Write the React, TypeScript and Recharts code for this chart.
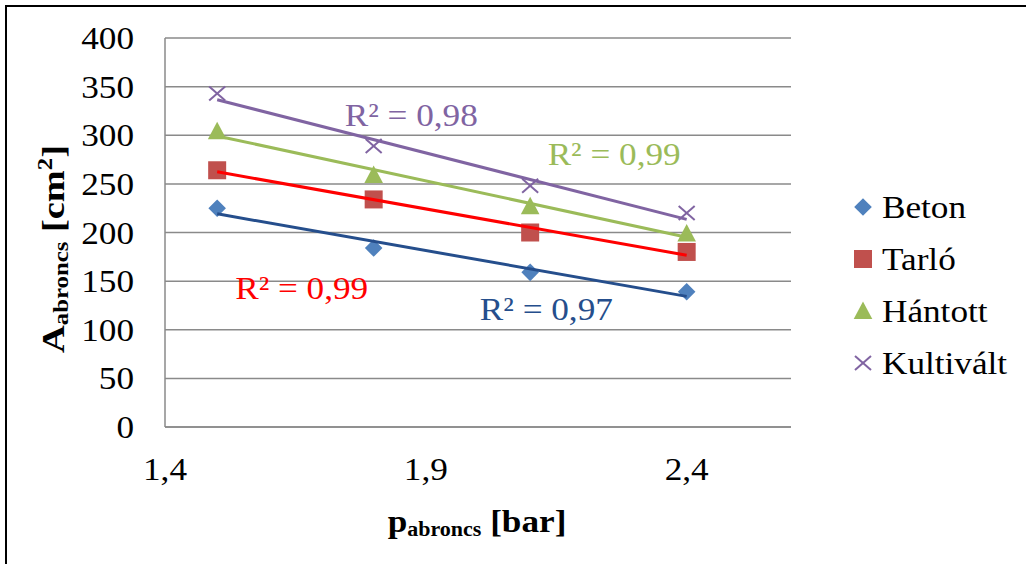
import React from 'react';
import { ScatterChart, Scatter, XAxis, YAxis, CartesianGrid, ReferenceDot } from 'recharts';

// ---- data ----
const pressures = [1.5, 1.8, 2.1, 2.4];
const betonArea = [225, 184, 159, 139];
const tarloArea = [264, 234, 200, 180];
const hantottArea = [304, 259, 227, 199];
const kultivaltArea = [343, 289, 248, 220];

const seriesNames = ['Beton', 'Tarló', 'Hántott', 'Kultivált'];
const r2Texts = ['R² = 0,97', 'R² = 0,99', 'R² = 0,99', 'R² = 0,98'];
// annotation anchors in data units (x = pressure, y = area), text baseline centre
const r2AnchorX = [2.131, 1.662, 2.261, 1.872];
const r2AnchorY = [110, 132, 269, 310];

const xTicks = [1.4, 1.9, 2.4];
const yTicks = [0, 50, 100, 150, 200, 250, 300, 350, 400];

// ---- styles ----
const FONT = '"Liberation Serif", "Times New Roman", serif';
const SX = 1.1;
const markerColors = ['#4F81BD', '#C0504D', '#9BBB59', '#8064A2'];
const lineColors = ['#254E8C', '#FF0000', '#9BBB59', '#8064A2'];
const kinds = ['diamond', 'square', 'triangle', 'cross'];
const GRID = '#8A8A8A';

const allAreas = [betonArea, tarloArea, hantottArea, kultivaltArea];

const toPoints = (ys: number[]) => pressures.map((x, i) => ({ x, y: ys[i] }));

const trend = (ys: number[]) => {
  const n = pressures.length;
  const mx = pressures.reduce((a, b) => a + b, 0) / n;
  const my = ys.reduce((a, b) => a + b, 0) / n;
  let sxy = 0;
  let sxx = 0;
  pressures.forEach((x, i) => {
    sxy += (x - mx) * (ys[i] - my);
    sxx += (x - mx) * (x - mx);
  });
  const b = sxy / sxx;
  const a = my - b * mx;
  const x0 = Math.min(...pressures);
  const x1 = Math.max(...pressures);
  return [
    { x: x0, y: a + b * x0 },
    { x: x1, y: a + b * x1 },
  ];
};

const Marker = ({ kind, cx, cy, color }: { kind: string; cx: number; cy: number; color: string }) => {
  if (kind === 'diamond') {
    const h = 8.8;
    return <polygon points={`${cx},${cy - h} ${cx + h},${cy} ${cx},${cy + h} ${cx - h},${cy}`} fill={color} />;
  }
  if (kind === 'square') {
    return <rect x={cx - 9} y={cy - 9} width={18} height={18} fill={color} />;
  }
  if (kind === 'triangle') {
    return <polygon points={`${cx},${cy - 9.5} ${cx + 9.3},${cy + 8} ${cx - 9.3},${cy + 8}`} fill={color} />;
  }
  return (
    <g stroke={color} strokeWidth={2}>
      <line x1={cx - 8} y1={cy - 7} x2={cx + 8} y2={cy + 7} />
      <line x1={cx - 8} y1={cy + 7} x2={cx + 8} y2={cy - 7} />
    </g>
  );
};

const fmt = (v: number) => String(v).replace('.', ',');

const XTick = (props: any) => {
  const { x, y, payload } = props;
  return (
    <g transform={`translate(${x},${y + 53}) scale(${SX},1)`}>
      <text textAnchor="middle" fontFamily={FONT} fontSize={32} fill="#000">
        {fmt(payload.value)}
      </text>
    </g>
  );
};

const YTick = (props: any) => {
  const { x, y, payload } = props;
  return (
    <g transform={`translate(${x - 31},${y + 11}) scale(${SX},1)`}>
      <text textAnchor="end" fontFamily={FONT} fontSize={32} fill="#000">
        {fmt(payload.value)}
      </text>
    </g>
  );
};

const R2Label = (color: string, text: string) => (props: any) => {
  const { cx, cy } = props;
  return (
    <g transform={`translate(${cx},${cy}) scale(${SX},1)`}>
      <text textAnchor="middle" fontFamily={FONT} fontSize={32} fill={color} style={{ whiteSpace: 'pre' }}>
        {text}
      </text>
    </g>
  );
};

export default function App() {
  return (
    <div style={{ position: 'absolute', left: 0, top: 0, width: 1026, height: 564, background: '#fff', overflow: 'hidden' }}>
      <ScatterChart width={1026} height={564} margin={{ top: 38, right: 235, bottom: 0, left: 0 }}>
        <CartesianGrid vertical={false} stroke={GRID} strokeWidth={1.5} />
        <XAxis
          type="number"
          dataKey="x"
          domain={[1.4, 2.6]}
          ticks={xTicks}
          interval={0}
          height={137}
          tickSize={0}
          tickMargin={0}
          tickLine={false}
          axisLine={{ stroke: GRID, strokeWidth: 1.5 }}
          tick={<XTick />}
          allowDataOverflow
        />
        <YAxis
          type="number"
          dataKey="y"
          domain={[0, 400]}
          ticks={yTicks}
          interval={0}
          width={165}
          tickSize={0}
          tickMargin={0}
          tickLine={false}
          axisLine={{ stroke: GRID, strokeWidth: 1.5 }}
          tick={<YTick />}
          allowDataOverflow
        />
        {allAreas.map((ys, i) => (
          <Scatter
            key={'pts' + i}
            name={seriesNames[i]}
            data={toPoints(ys)}
            isAnimationActive={false}
            shape={(p: any) => <Marker kind={kinds[i]} cx={p.cx} cy={p.cy} color={markerColors[i]} />}
          />
        ))}
        {allAreas.map((ys, i) => (
          <Scatter
            key={'trend' + i}
            name={seriesNames[i] + ' trend'}
            data={trend(ys)}
            isAnimationActive={false}
            line={{ stroke: lineColors[i], strokeWidth: 3 }}
            shape={() => <g />}
          />
        ))}
        {r2Texts.map((t, i) => (
          <ReferenceDot
            key={'r2' + i}
            x={r2AnchorX[i]}
            y={r2AnchorY[i]}
            r={0}
            shape={R2Label(lineColors[i], t)}
          />
        ))}
      </ScatterChart>
      <svg
        width={1026}
        height={564}
        style={{ position: 'absolute', left: 0, top: 0, pointerEvents: 'none' }}
      >
        <rect x={6} y={6} width={1040} height={580} fill="none" stroke="#000" strokeWidth={2} />
        {/* x axis title */}
        <g transform={`translate(477,532) scale(${SX},1)`}>
          <text textAnchor="middle" fontFamily={FONT} fontWeight="bold" fill="#000" style={{ whiteSpace: 'pre' }}>
            <tspan fontSize={32}>p</tspan>
            <tspan fontSize={20} dy={4}>abroncs</tspan>
            <tspan fontSize={32} dy={-4}> [bar]</tspan>
          </text>
        </g>
        {/* y axis title */}
        <g transform={`translate(64,249) rotate(-90) scale(1.24,1)`}>
          <text textAnchor="middle" fontFamily={FONT} fontWeight="bold" fill="#000" style={{ whiteSpace: 'pre' }}>
            <tspan fontSize={31}>A</tspan>
            <tspan fontSize={20} dy={4}>abroncs</tspan>
            <tspan fontSize={31} dy={-4}> [cm</tspan>
            <tspan fontSize={20} dy={-12}>2</tspan>
            <tspan fontSize={31} dy={12}>]</tspan>
          </text>
        </g>
        {/* legend */}
        {seriesNames.map((name, i) => {
          const cy = 207 + i * 52;
          return (
            <g key={name}>
              <Marker kind={kinds[i]} cx={863} cy={cy} color={markerColors[i]} />
              <g transform={`translate(882,${cy + 11}) scale(${SX},1)`}>
                <text fontFamily={FONT} fontSize={32} fill="#000">
                  {name}
                </text>
              </g>
            </g>
          );
        })}
      </svg>
    </div>
  );
}
